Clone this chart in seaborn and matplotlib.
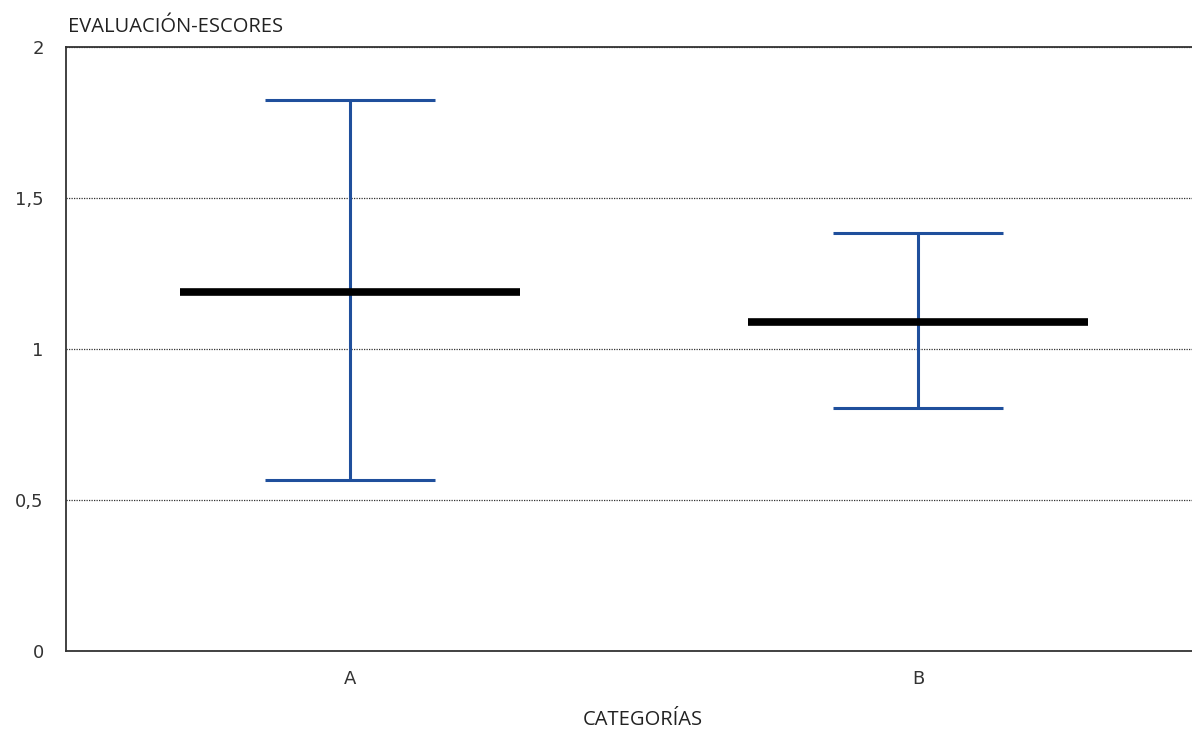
import pandas as pd
import matplotlib
matplotlib.use("Agg")
import matplotlib.pyplot as plt
import seaborn as sns

categories = ["A", "B"]
means = [1.19, 1.09]
lower = [0.565, 0.805]
upper = [1.825, 1.385]
y_ticks = [0, 0.5, 1, 1.5, 2]
y_tick_labels = ["0", "0,5", "1", "1,5", "2"]

df = pd.DataFrame({"cat": categories, "mean": means, "lo": lower, "hi": upper})

sns.set_style("white")
plt.rcParams["font.family"] = ["DejaVu Sans"]

fig = plt.figure(figsize=(11.92, 7.29), dpi=100)
# plot area runs past the right edge of the picture, like the original
ax = fig.add_axes([66 / 1192, 78 / 729, 1136 / 1192, 604 / 729])

blue = "#1f4f9c"
x = list(range(len(df)))
ax.errorbar(x, df["mean"], yerr=[df["mean"] - df["lo"], df["hi"] - df["mean"]],
            fmt="none", ecolor=blue, elinewidth=2.2, capsize=61, capthick=2.2, zorder=3)

# mean as a wide black dash
sns.pointplot(data=df, x="cat", y="mean", linestyle="none", markers="_",
              color="black", markersize=245, markeredgewidth=5.5, errorbar=None,
              ax=ax, zorder=4)

ax.set_xlim(-0.5, 1.5)
ax.set_ylim(0, 2)
ax.set_yticks(y_ticks)
ax.set_yticklabels(y_tick_labels)
ax.grid(axis="y", linestyle=(0, (1, 1)), color="#333333", linewidth=0.9)
ax.grid(axis="x", visible=False)
ax.tick_params(axis="y", length=0, pad=16, labelsize=13, labelcolor="#333333")
ax.tick_params(axis="x", length=0, pad=14, labelsize=13, labelcolor="#333333")
for side in ["left", "bottom", "top"]:
    ax.spines[side].set_color("#333333")
    ax.spines[side].set_linewidth(1.3)
ax.spines["right"].set_visible(False)

ax.set_xlabel("")
ax.set_ylabel("")
fig.text(68 / 1192, 1 - 27 / 729, "EVALUACIÓN-ESCORES", fontsize=14.5,
         family="Open Sans", color="#222222", va="center", ha="left")
fig.text(643 / 1192, 1 - 720 / 729, "CATEGORÍAS", fontsize=14.5,
         family="Open Sans", color="#222222", va="center", ha="center")

fig.savefig("out.png", dpi=100)
